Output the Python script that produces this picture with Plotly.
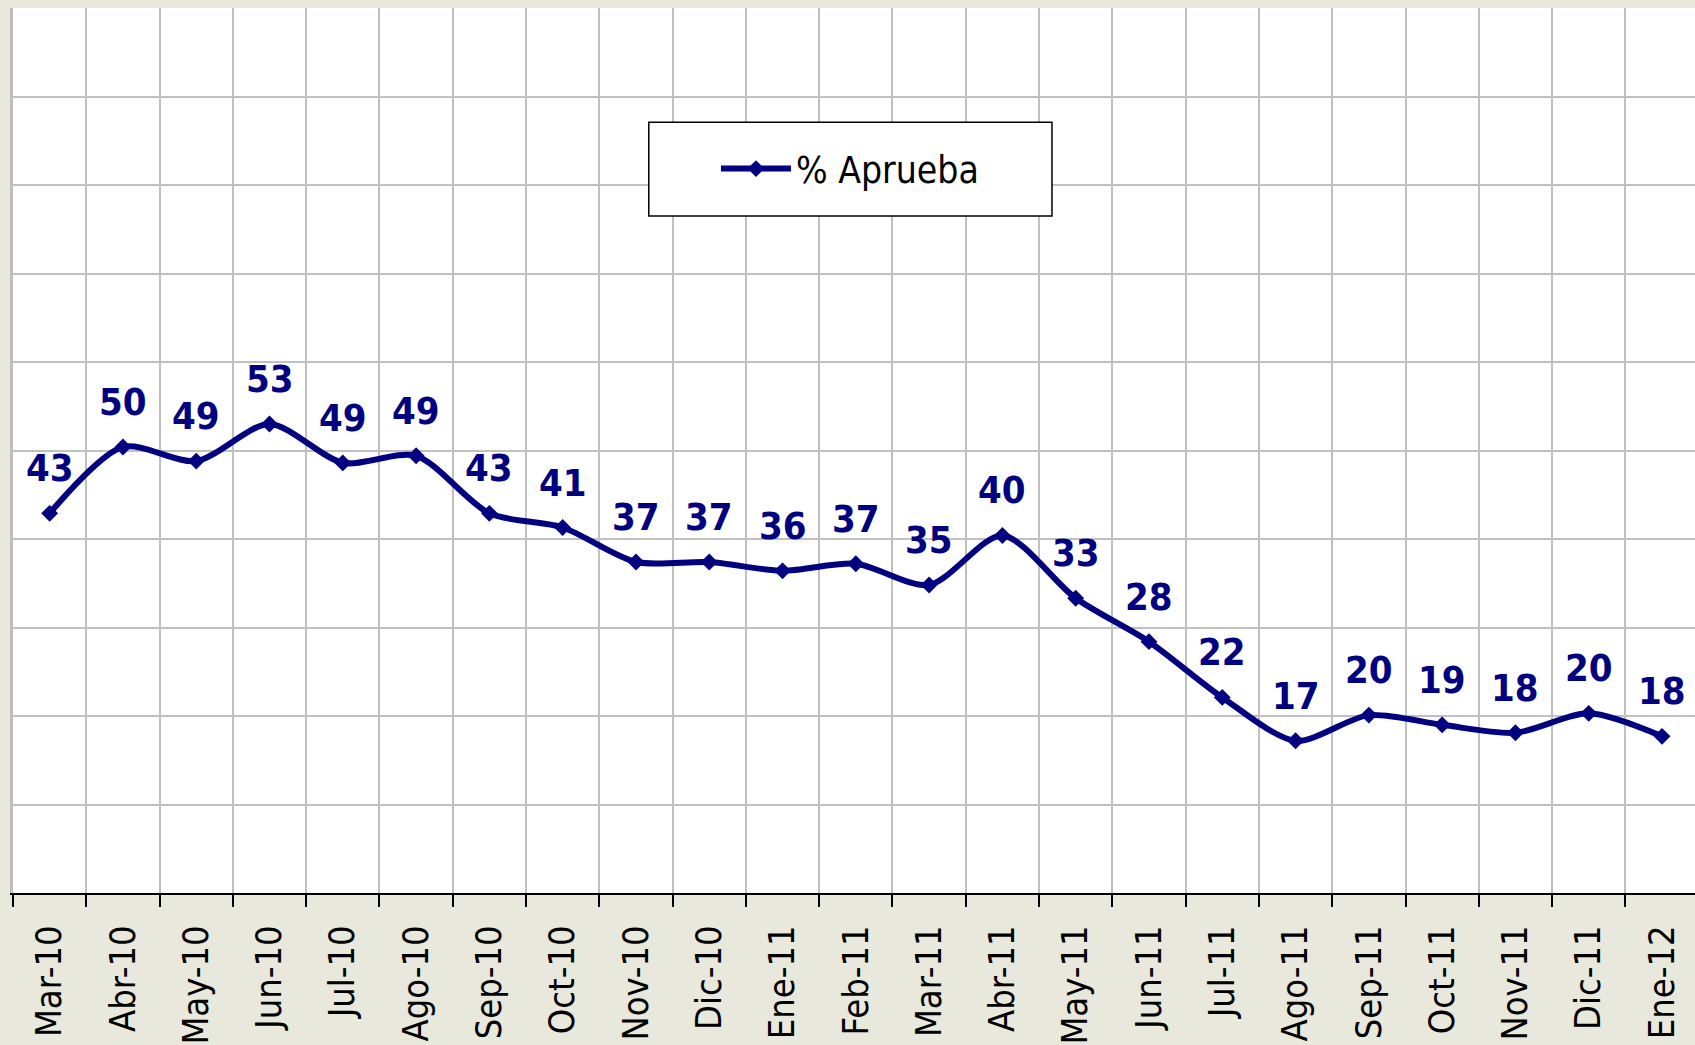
import plotly.graph_objects as go

months = [
    "Mar-10", "Abr-10", "May-10", "Jun-10", "Jul-10", "Ago-10", "Sep-10", "Oct-10",
    "Nov-10", "Dic-10", "Ene-11", "Feb-11", "Mar-11", "Abr-11", "May-11", "Jun-11",
    "Jul-11", "Ago-11", "Sep-11", "Oct-11", "Nov-11", "Dic-11", "Ene-12",
]
aprueba = [
    42.9, 50.4, 48.8, 53.0, 48.6, 49.4, 42.9, 41.3, 37.4, 37.4, 36.4, 37.2,
    34.8, 40.4, 33.3, 28.4, 22.1, 17.2, 20.1, 19.0, 18.1, 20.3, 17.7,
]

NAVY = "#000080"
FONT = "DejaVu Sans Condensed, DejaVu Sans, sans-serif"

fig = go.Figure()
fig.add_trace(go.Scatter(
    x=months,
    y=aprueba,
    mode="lines+markers",
    name="% Aprueba",
    line={"color": NAVY, "width": 6, "shape": "spline", "smoothing": 0.8},
    marker={"symbol": "diamond", "size": 13, "color": NAVY},
))

for m, v in zip(months, aprueba):
    fig.add_annotation(
        x=m, y=v, text=f"<b>{v:.0f}</b>", showarrow=False,
        yanchor="middle", xanchor="center", yshift=45,
        font={"family": FONT, "size": 38, "color": NAVY},
    )

# legend frame
fig.add_shape(
    type="rect", xref="paper", yref="paper",
    x0=0.378, x1=0.6177, y0=0.765, y1=0.871,
    line={"color": "black", "width": 1.5}, fillcolor="white", layer="above",
)

fig.update_layout(
    width=1695,
    height=1045,
    margin={"l": 13, "r": 0, "t": 8, "b": 152},
    paper_bgcolor="#E8E8DC",
    plot_bgcolor="white",
    font={"family": FONT, "color": "black"},
    showlegend=True,
    legend={
        "x": 0.4976, "y": 0.818, "xanchor": "center", "yanchor": "middle",
        "bgcolor": "rgba(0,0,0,0)", "borderwidth": 0,
        "font": {"family": FONT, "size": 37, "color": "black"},
        "itemwidth": 70,
    },
)
fig.update_xaxes(
    type="category",
    range=[-0.5, 22.45],
    tickson="boundaries",
    showgrid=True, gridcolor="#C0C0C0", gridwidth=2,
    showline=True, linecolor="black", linewidth=2,
    ticks="outside", ticklen=12, tickwidth=2, tickcolor="black",
    tickangle=-90,
    ticklabelstandoff=16,
    tickfont={"family": FONT, "size": 36, "color": "black"},
    fixedrange=True,
)
fig.update_yaxes(
    range=[0, 100],
    dtick=10,
    showgrid=True, gridcolor="#C0C0C0", gridwidth=2,
    showticklabels=False,
    zeroline=False,
    showline=True, linecolor="#BEBEBE", linewidth=3, mirror=False,
    fixedrange=True,
)

fig.write_html(
    "out.html",
    config={"displayModeBar": False},
    post_script="document.body.style.margin='0';document.body.style.overflow='hidden';",
)
